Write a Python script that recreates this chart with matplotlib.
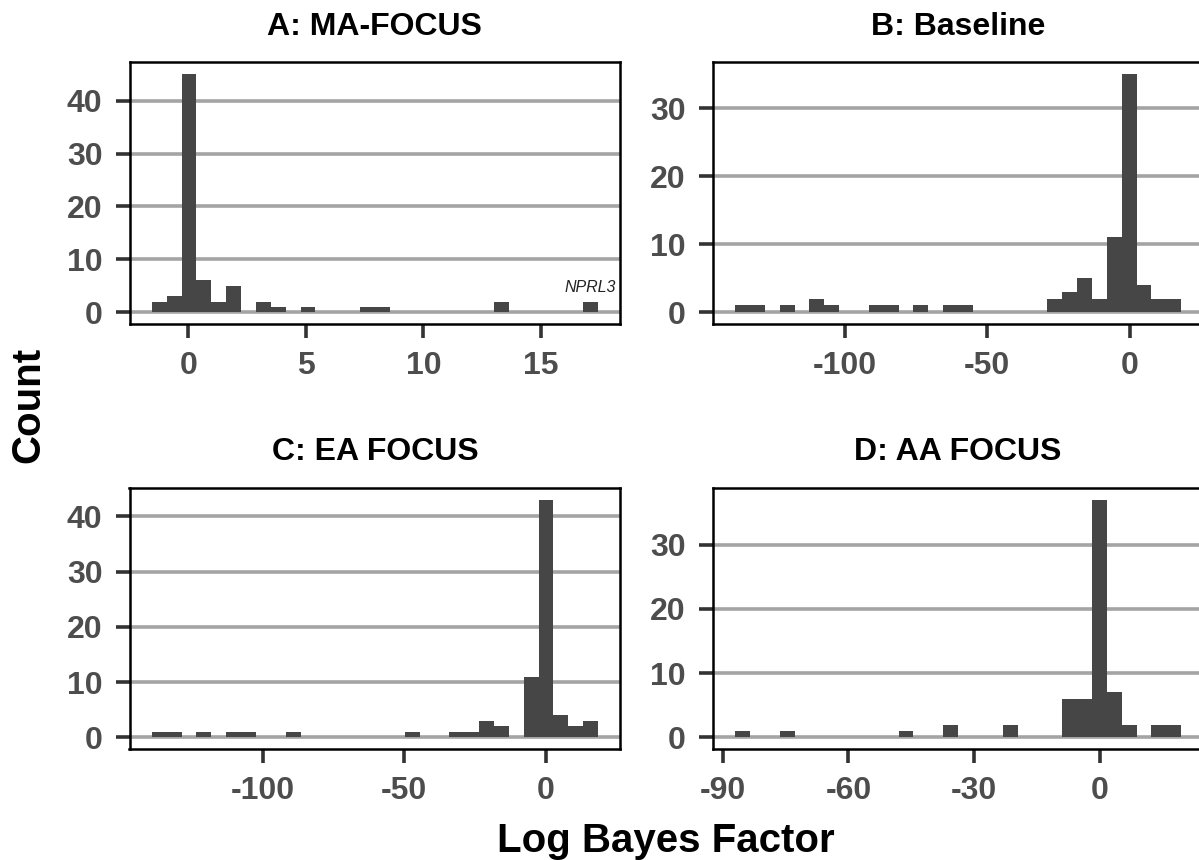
import matplotlib
matplotlib.use('Agg')

import matplotlib.pyplot as plt
from matplotlib.ticker import MultipleLocator
import numpy as np

plt.rcParams['font.family'] = ['Liberation Sans', 'DejaVu Sans']
plt.rcParams['axes.unicode_minus'] = False

# ── Histogram data (30 bins per panel) ───────────────────────────────────────
TITLES = ["A: MA-FOCUS", "B: Baseline", "C: EA FOCUS", "D: AA FOCUS"]

# bin range (lowest edge, highest edge) in Log Bayes Factor units
A_RANGE = (-1.56, 17.43)
B_RANGE = (-138.6, 18.1)
C_RANGE = (-139.2, 18.5)
D_RANGE = (-87.1, 19.5)

A_COUNTS = [2, 3, 45, 6, 2, 5, 0, 2, 1, 0, 1, 0, 0, 0, 1,
            1, 0, 0, 0, 0, 0, 0, 0, 2, 0, 0, 0, 0, 0, 2]
B_COUNTS = [1, 1, 0, 1, 0, 2, 1, 0, 0, 1, 1, 0, 1, 0, 1,
            1, 0, 0, 0, 0, 0, 2, 3, 5, 2, 11, 35, 4, 2, 2]
C_COUNTS = [1, 1, 0, 1, 0, 1, 1, 0, 0, 1, 0, 0, 0, 0, 0,
            0, 0, 1, 0, 0, 1, 1, 3, 2, 0, 11, 43, 4, 2, 3]
D_COUNTS = [1, 0, 0, 1, 0, 0, 0, 0, 0, 0, 0, 1, 0, 0, 2,
            0, 0, 0, 2, 0, 0, 0, 6, 6, 37, 7, 2, 0, 2, 2]

X_STEPS = [5, 50, 50, 30]
ANNOT_LABEL = "NPRL3"   # gene label over the right-most bar in panel A

# ── Style ─────────────────────────────────────────────────────────────────────
BAR_COLOR = "#464646"
GRID_COLOR = "#a4a4a4"
TICK_TEXT = "#4d4d4d"

fig = plt.figure(figsize=(11.99, 8.6), dpi=100)

W, H = 1199, 860
col_left = [129.5 / W, 712.7 / W]
row_bottom = [1 - 324 / H, 1 - 749.3 / H]
ax_w, ax_h = 490.8 / W, 261.5 / H

panels = [
    (A_RANGE, A_COUNTS),
    (B_RANGE, B_COUNTS),
    (C_RANGE, C_COUNTS),
    (D_RANGE, D_COUNTS),
]

axes = []
for i, ((lo, hi), counts) in enumerate(panels):
    r, c = divmod(i, 2)
    ax = fig.add_axes([col_left[c], row_bottom[r], ax_w, ax_h])
    axes.append(ax)

    counts = np.array(counts)
    edges = np.linspace(lo, hi, len(counts) + 1)
    width = edges[1] - edges[0]
    centers = edges[:-1] + width / 2
    ax.bar(centers, counts, width=width, color=BAR_COLOR, linewidth=0, zorder=3)

    xpad = 0.05 * (hi - lo)
    ymax = counts.max()
    ax.set_xlim(lo - xpad, hi + xpad)
    ax.set_ylim(-0.05 * ymax, 1.05 * ymax)

    ax.xaxis.set_major_locator(MultipleLocator(X_STEPS[i]))
    ax.yaxis.set_major_locator(MultipleLocator(10))
    ax.yaxis.grid(True, color=GRID_COLOR, linewidth=2.6, zorder=1)
    ax.xaxis.grid(False)
    ax.set_axisbelow(True)

    for s in ax.spines.values():
        s.set_linewidth(1.8)
        s.set_color("black")

    ax.tick_params(axis="both", length=10, width=2.6, color="#333333",
                   labelsize=23, labelcolor=TICK_TEXT, pad=9.5)
    for lab in ax.get_xticklabels() + ax.get_yticklabels():
        lab.set_fontweight("bold")

    ax.set_title(TITLES[i], fontsize=23, fontweight="bold", pad=20)

    if i == 0:
        ax.text(centers[-1], counts[-1] + 2.7, ANNOT_LABEL, style="italic",
                ha="center", va="center", fontsize=11.5, color="#222222")

fig.text(28 / W, 1 - 405 / H, "Count", rotation=90, ha="center", va="center",
         fontsize=29, fontweight="bold")
fig.text(666 / W, 1 - 851.7 / H, "Log Bayes Factor", ha="center",
         va="baseline", fontsize=29, fontweight="bold")

fig.savefig("out.png", dpi=100)
